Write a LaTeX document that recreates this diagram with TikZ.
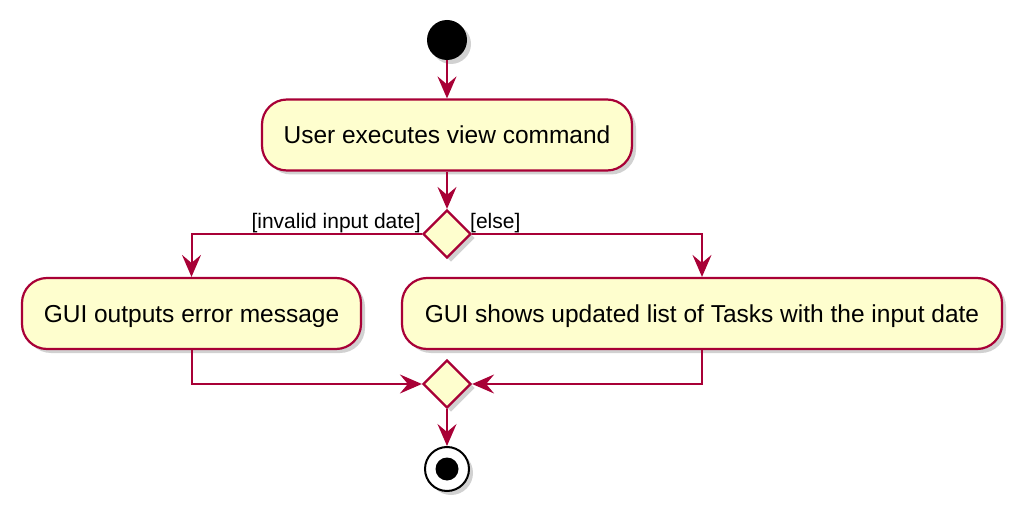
\documentclass[tikz,border=0pt]{standalone}
\usepackage{fontspec}
\setmainfont{Liberation Sans}
\usetikzlibrary{shapes.geometric,arrows.meta,shadows}
\definecolor{umlred}{HTML}{A80036}
\definecolor{umlfill}{HTML}{FEFECE}
\begin{document}
\begin{tikzpicture}[x=1pt,y=-1pt,
  shd/.style={drop shadow={shadow xshift=4pt,shadow yshift=-4pt,opacity=0.3,fill=black!60}},
  act/.style={draw=umlred,fill=umlfill,line width=2.2pt,rounded corners=25pt,minimum height=71pt,inner sep=0pt,text height=18pt,text depth=0pt,shd,font=\fontsize{24.5}{29}\selectfont},
  dec/.style={diamond,draw=umlred,fill=umlfill,line width=2.2pt,minimum width=48pt,minimum height=48pt,inner sep=0pt,shd},
  flow/.style={draw=umlred,line width=2pt,-{Stealth[length=22pt,width=19pt,inset=8pt]}},
  lbl/.style={inner sep=0pt,font=\fontsize{21}{25}\selectfont}]
\useasboundingbox (0,0) rectangle (1034,524);
\node[circle,fill=black,minimum size=40pt,inner sep=0pt,shd] (start) at (447,40) {};
\node[act,minimum width=370pt] (b1) at (447,135) {User executes view command};
\node[dec] (d1) at (447,234) {};
\node[act,minimum width=339pt] (b2) at (191.5,313.5) {GUI outputs error message};
\node[act,minimum width=600pt] (b3) at (702,313.5) {GUI shows updated list of Tasks with the input date};
\node[dec] (m) at (447,384) {};
\node[circle,draw=black,line width=2pt,fill=white,minimum size=44pt,inner sep=0pt,shd] (end) at (447,469) {};
\node[circle,fill=black,minimum size=23pt,inner sep=0pt] (endin) at (end) {};
\node[lbl,anchor=base east] (l1) at (421,228) {[invalid input date]};
\node[lbl,anchor=base west] (l2) at (470,228) {[else]};
\draw[flow] (start) -- (b1);
\draw[flow] (b1) -- (d1);
\draw[flow] (d1.west) -| (b2.north);
\draw[flow] (d1.east) -| (b3.north);
\draw[flow] (b2.south) |- (m.west);
\draw[flow] (b3.south) |- (m.east);
\draw[flow] (m) -- (end);
\end{tikzpicture}
\end{document}
